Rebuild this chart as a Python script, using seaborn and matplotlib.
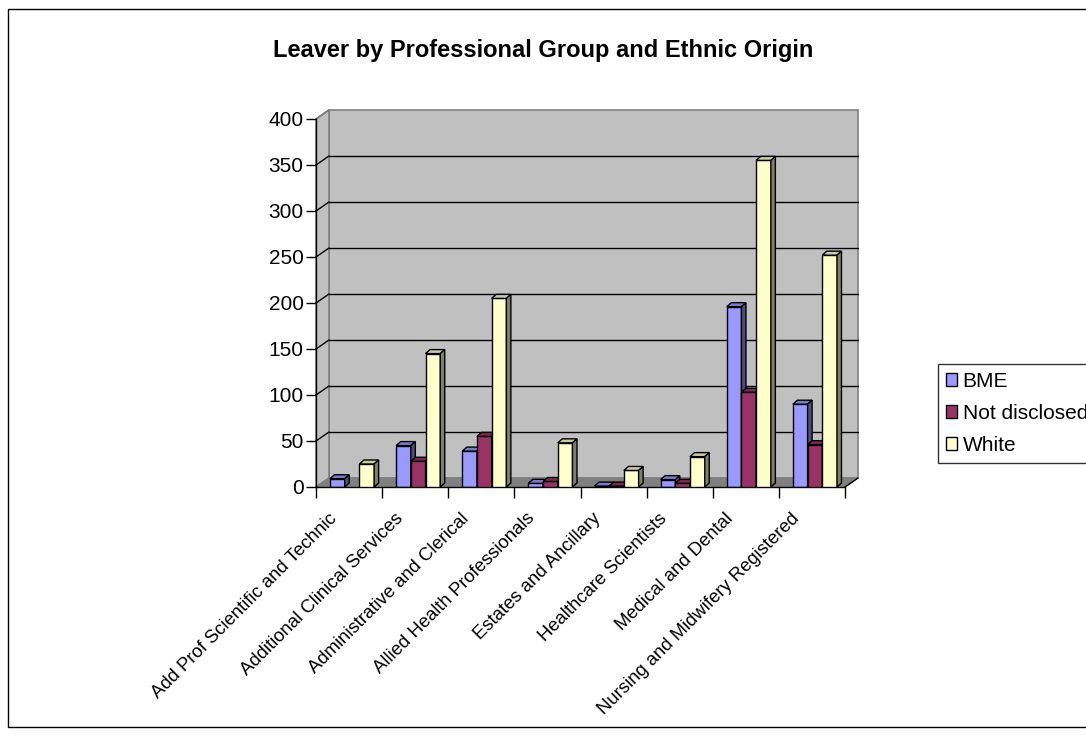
import numpy as np
import pandas as pd
import matplotlib
matplotlib.use("Agg")
import matplotlib.pyplot as plt
import matplotlib.colors as mcolors
from matplotlib.patches import Polygon, Rectangle, Patch
from matplotlib.transforms import IdentityTransform, ScaledTranslation
import seaborn as sns

# ---- data -------------------------------------------------------------
groups = [
    "Add Prof Scientific and Technic",
    "Additional Clinical Services",
    "Administrative and Clerical",
    "Allied Health Professionals",
    "Estates and Ancillary",
    "Healthcare Scientists",
    "Medical and Dental",
    "Nursing and Midwifery Registered",
]
origins = ["BME", "Not disclosed", "White"]
bme = [9, 45, 39, 4, 1, 8, 196, 90]
not_disclosed = [0, 28, 55, 6, 1, 4, 103, 46]
white = [25, 145, 205, 48, 18, 33, 355, 252]
y_ticks = [0, 50, 100, 150, 200, 250, 300, 350, 400]
title = "Leaver by Professional Group and Ethnic Origin"

colors = ["#9999FF", "#993366", "#FFFFCC"]

df = pd.DataFrame({
    "group": groups * 3,
    "origin": [o for o in origins for _ in groups],
    "count": bme + not_disclosed + white,
})

# ---- figure / layout (pixel geometry) ----------------------------------
W, H = 1086, 735
sns.set_style("white")
plt.rcParams["font.family"] = ["Liberation Sans", "DejaVu Sans"]
plt.rcParams["text.color"] = "black"
plt.rcParams["xtick.color"] = "black"
plt.rcParams["ytick.color"] = "black"
plt.rcParams["axes.labelcolor"] = "black"

fig = plt.figure(figsize=(W / 100, H / 100), dpi=100)
fig.patch.set_facecolor("white")

FX0, FX1 = 316, 845      # front plane, left/right
FY0, FY1 = 487, 119      # front plane, value 0 / value 400 (from top)
DX, DY = 13, 9           # depth offset of the back wall

bg = fig.add_axes([0, 0, 1, 1], zorder=0)
bg.set_xlim(0, W)
bg.set_ylim(H, 0)
bg.axis("off")

ax = fig.add_axes([FX0 / W, 1 - FY0 / H, (FX1 - FX0) / W, (FY0 - FY1) / H], zorder=1)
ax.patch.set_alpha(0)

# ---- bars ---------------------------------------------------------------
sns.barplot(data=df, x="group", y="count", hue="origin", order=groups,
            hue_order=origins, palette=colors, width=0.667, saturation=1,
            edgecolor="black", linewidth=1.0, errorbar=None, legend=False, ax=ax)

ax.set_xlim(-0.5, len(groups) - 0.5)
ax.set_ylim(y_ticks[0], y_ticks[-1])
ax.set_xlabel("")
ax.set_ylabel("")
ax.grid(False)
for s in ["top", "right"]:
    ax.spines[s].set_visible(False)
for s in ["left", "bottom"]:
    ax.spines[s].set_color("black")
    ax.spines[s].set_linewidth(1)

ax.set_yticks(y_ticks)
ax.tick_params(axis="y", length=7, width=1, direction="out", color="black",
               labelcolor="black", labelsize=15, pad=2, left=True)
ax.set_xticks(range(len(groups)))
ax.set_xticklabels(groups, rotation=45, ha="right", va="top",
                   rotation_mode="anchor", fontsize=13.3, color="black")
ax.tick_params(axis="x", which="major", length=0, pad=16.5)
ax.set_xticks(np.arange(-0.5, len(groups), 1), minor=True)
ax.tick_params(axis="x", which="minor", length=8, width=1, direction="out",
               color="black", bottom=True)
shift_lbl = ScaledTranslation(-21 / 100, 0, fig.dpi_scale_trans)
for lbl in ax.get_xticklabels():
    lbl.set_transform(lbl.get_transform() + shift_lbl)

# ---- walls and floor (pixel coords, top-down) ---------------------------
def vy(v):
    return H - ax.transData.transform((0, v))[1]

bg.add_patch(Rectangle((8, 9), W, 718, fill=False, ec="black", lw=1))

wall = Rectangle((FX0 + DX, FY1 - DY), FX1 - FX0, FY0 - FY1,
                 fc="#C0C0C0", ec="#808080", lw=1.2)
bg.add_patch(wall)
side = Polygon([(FX0, FY0), (FX0, FY1), (FX0 + DX, FY1 - DY), (FX0 + DX, FY0 - DY)],
               closed=True, fc="#C0C0C0", ec="#808080", lw=1.2)
bg.add_patch(side)
for v in y_ticks[1:-1]:
    y = vy(v)
    bg.plot([FX0 + DX, FX1 + DX], [y - DY, y - DY], color="black", lw=1)
    bg.plot([FX0, FX0 + DX], [y, y - DY], color="black", lw=1)
bg.plot([FX0, FX0 + DX], [FY1, FY1 - DY], color="#808080", lw=1.2)
floor = Polygon([(FX0, FY0), (FX1, FY0), (FX1 + DX, FY0 - DY), (FX0 + DX, FY0 - DY)],
                closed=True, fc="#808080", ec="#808080", lw=1)
bg.add_patch(floor)
bg.plot([FX1, FX1 + DX], [FY0, FY0 - DY], color="black", lw=1)

# ---- 3-D caps on the bars ----------------------------------------------
def shade(c, f):
    r, g, b = mcolors.to_rgb(c)
    return (r * f, g * f, b * f)

px_per_unit = (FX1 - FX0) / len(groups)
shift = 3 / px_per_unit
bx, by = 4.5, 4.0
for i, cont in enumerate(ax.containers):
    top_c = shade(colors[i], 0.8)
    side_c = shade(colors[i], 0.5)
    for rect in cont:
        rect.set_zorder(2 + i)
        rect.set_x(rect.get_x() + shift)
        if rect.get_height() <= 0:
            rect.set_visible(False)
            continue
        (x0, y0), (x1, y1) = ax.transData.transform(
            [(rect.get_x(), 0), (rect.get_x() + rect.get_width(), rect.get_height())])
        cap = Polygon([(x0, y1), (x1, y1), (x1 + bx, y1 + by), (x0 + bx, y1 + by)],
                      closed=True, fc=top_c, ec="black", lw=1,
                      transform=IdentityTransform(), zorder=2.5 + i, clip_on=False)
        sd = Polygon([(x1, y0), (x1, y1), (x1 + bx, y1 + by), (x1 + bx, y0 + by)],
                     closed=True, fc=side_c, ec="black", lw=1,
                     transform=IdentityTransform(), zorder=2.5 + i, clip_on=False)
        ax.add_patch(cap)
        ax.add_patch(sd)

# ---- legend and title ---------------------------------------------------
handles = [Patch(fc=c, ec="black", lw=1) for c in colors]
leg = ax.legend(handles, origins, loc="upper left",
                bbox_to_anchor=(938 / W, 1 - 364 / H), bbox_transform=fig.transFigure,
                frameon=True, fancybox=False, edgecolor="black", fontsize=15,
                handlelength=0.55, handleheight=0.55, handletextpad=0.25,
                labelspacing=0.62, borderpad=0.38, borderaxespad=0)
leg.get_frame().set_linewidth(1)
for t in leg.get_texts():
    t.set_color("black")

fig.text(0.5, 1 - 57 / H, title, ha="center", va="baseline",
         fontsize=17, fontweight="bold", color="black")

fig.savefig("out.png", dpi=100)
